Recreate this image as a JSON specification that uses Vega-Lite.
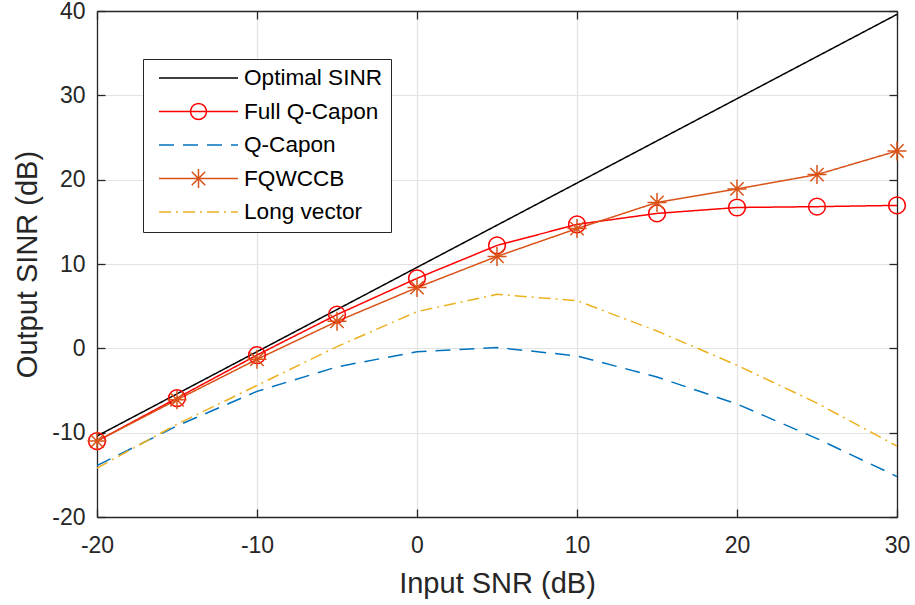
{
  "$schema": "https://vega.github.io/schema/vega-lite/v6.json",
  "width": 800,
  "height": 506,
  "autosize": {"type": "none"},
  "padding": {"left": 97, "top": 11, "right": 18, "bottom": 88},
  "background": "white",
  "config": {
    "view": {"stroke": null},
    "font": "Liberation Sans",
    "axis": {
      "labelFont": "Liberation Sans",
      "labelFontSize": 23,
      "labelColor": "#262626",
      "labelFlush": false,
      "titleFont": "Liberation Sans",
      "titleFontSize": 29,
      "titleFontWeight": "normal",
      "titleColor": "#262626",
      "domainColor": "#262626",
      "domainWidth": 1.3,
      "tickColor": "#262626",
      "tickWidth": 1.3,
      "gridColor": "#e3e3e3",
      "gridWidth": 1.2
    },
    "legend": {
      "labelFont": "Liberation Sans"
    }
  },
  "data": {
    "values": [
      {"snr": -20, "sinr": -10.4, "series": "Optimal SINR"},
      {"snr": -15, "sinr": -5.4, "series": "Optimal SINR"},
      {"snr": -10, "sinr": -0.4, "series": "Optimal SINR"},
      {"snr": -5, "sinr": 4.6, "series": "Optimal SINR"},
      {"snr": 0, "sinr": 9.6, "series": "Optimal SINR"},
      {"snr": 5, "sinr": 14.6, "series": "Optimal SINR"},
      {"snr": 10, "sinr": 19.6, "series": "Optimal SINR"},
      {"snr": 15, "sinr": 24.6, "series": "Optimal SINR"},
      {"snr": 20, "sinr": 29.6, "series": "Optimal SINR"},
      {"snr": 25, "sinr": 34.6, "series": "Optimal SINR"},
      {"snr": 30, "sinr": 39.6, "series": "Optimal SINR"},
      {"snr": -20, "sinr": -11.0, "series": "Full Q-Capon"},
      {"snr": -15, "sinr": -5.9, "series": "Full Q-Capon"},
      {"snr": -10, "sinr": -0.8, "series": "Full Q-Capon"},
      {"snr": -5, "sinr": 4.0, "series": "Full Q-Capon"},
      {"snr": 0, "sinr": 8.3, "series": "Full Q-Capon"},
      {"snr": 5, "sinr": 12.2, "series": "Full Q-Capon"},
      {"snr": 10, "sinr": 14.7, "series": "Full Q-Capon"},
      {"snr": 15, "sinr": 16.0, "series": "Full Q-Capon"},
      {"snr": 20, "sinr": 16.7, "series": "Full Q-Capon"},
      {"snr": 25, "sinr": 16.8, "series": "Full Q-Capon"},
      {"snr": 30, "sinr": 16.95, "series": "Full Q-Capon"},
      {"snr": -20, "sinr": -13.9, "series": "Q-Capon"},
      {"snr": -15, "sinr": -9.2, "series": "Q-Capon"},
      {"snr": -10, "sinr": -5.1, "series": "Q-Capon"},
      {"snr": -5, "sinr": -2.2, "series": "Q-Capon"},
      {"snr": 0, "sinr": -0.4, "series": "Q-Capon"},
      {"snr": 5, "sinr": 0.1, "series": "Q-Capon"},
      {"snr": 10, "sinr": -0.9, "series": "Q-Capon"},
      {"snr": 15, "sinr": -3.4, "series": "Q-Capon"},
      {"snr": 20, "sinr": -6.6, "series": "Q-Capon"},
      {"snr": 25, "sinr": -10.7, "series": "Q-Capon"},
      {"snr": 30, "sinr": -15.2, "series": "Q-Capon"},
      {"snr": -20, "sinr": -11.0, "series": "FQWCCB"},
      {"snr": -15, "sinr": -6.1, "series": "FQWCCB"},
      {"snr": -10, "sinr": -1.3, "series": "FQWCCB"},
      {"snr": -5, "sinr": 3.2, "series": "FQWCCB"},
      {"snr": 0, "sinr": 7.2, "series": "FQWCCB"},
      {"snr": 5, "sinr": 10.9, "series": "FQWCCB"},
      {"snr": 10, "sinr": 14.2, "series": "FQWCCB"},
      {"snr": 15, "sinr": 17.3, "series": "FQWCCB"},
      {"snr": 20, "sinr": 18.9, "series": "FQWCCB"},
      {"snr": 25, "sinr": 20.6, "series": "FQWCCB"},
      {"snr": 30, "sinr": 23.4, "series": "FQWCCB"},
      {"snr": -20, "sinr": -14.2, "series": "Long vector"},
      {"snr": -15, "sinr": -9.0, "series": "Long vector"},
      {"snr": -10, "sinr": -4.4, "series": "Long vector"},
      {"snr": -5, "sinr": 0.2, "series": "Long vector"},
      {"snr": 0, "sinr": 4.35, "series": "Long vector"},
      {"snr": 5, "sinr": 6.4, "series": "Long vector"},
      {"snr": 10, "sinr": 5.65, "series": "Long vector"},
      {"snr": 15, "sinr": 2.05, "series": "Long vector"},
      {"snr": 20, "sinr": -2.0, "series": "Long vector"},
      {"snr": 25, "sinr": -6.5, "series": "Long vector"},
      {"snr": 30, "sinr": -11.6, "series": "Long vector"}
    ]
  },
  "layer": [
    {
      "mark": {"type": "line", "strokeWidth": 1.5, "clip": true},
      "encoding": {
        "x": {
          "field": "snr", "type": "quantitative",
          "scale": {"domain": [-20, 30], "nice": false, "zero": false},
          "axis": {"orient": "bottom", "values": [-20, -10, 0, 10, 20, 30], "labelExpr": "'' + datum.value", "title": "Input SNR (dB)", "tickSize": -8, "labelPadding": 25, "titlePadding": 12}
        },
        "y": {
          "field": "sinr", "type": "quantitative",
          "scale": {"domain": [-20, 40], "nice": false, "zero": false},
          "axis": {"orient": "left", "values": [-20, -10, 0, 10, 20, 30, 40], "labelExpr": "'' + datum.value", "title": "Output SINR (dB)", "tickSize": -8, "labelPadding": 20, "titlePadding": 9}
        },
        "color": {
          "field": "series", "type": "nominal",
          "scale": {
            "domain": ["Optimal SINR", "Full Q-Capon", "Q-Capon", "FQWCCB", "Long vector"],
            "range": ["#000000", "#ff0000", "#0072bd", "#d95319", "#edb120"]
          },
          "legend": {
            "title": null,
            "orient": "none",
            "legendX": 46,
            "legendY": 48,
            "symbolType": "stroke",
            "symbolSize": 6241,
            "symbolStrokeWidth": 1.5,
            "symbolOffset": 7,
            "clipHeight": 22,
            "labelFontSize": 22.6,
            "labelColor": "#000000",
            "labelOffset": 5,
            "strokeColor": "#262626",
            "fillColor": "#ffffff",
            "padding": 8,
            "rowPadding": 10.5,
            "encode": {
              "symbols": {
                "update": {
                  "shape": {"signal": "datum.value === 'Full Q-Capon' ? 'M-1,0L1,0M0.2,0A0.2,0.2 0 1 1 -0.2,0A0.2,0.2 0 1 1 0.2,0' : datum.value === 'FQWCCB' ? 'M-1,0L1,0M0,-0.24L0,0.24M-0.17,-0.17L0.17,0.17M-0.17,0.17L0.17,-0.17' : 'M-1,0L1,0'"}
                }
              }
            }
          }
        },
        "strokeDash": {
          "field": "series", "type": "nominal",
          "scale": {
            "domain": ["Optimal SINR", "Full Q-Capon", "Q-Capon", "FQWCCB", "Long vector"],
            "range": [[1, 0], [1, 0], [15, 9], [1, 0], [12, 5, 2, 5]]
          },
          "legend": null
        }
      }
    },
    {
      "transform": [{"filter": "datum.series === 'Full Q-Capon' || datum.series === 'FQWCCB'"}],
      "mark": {"type": "point", "filled": false, "strokeWidth": 1.5, "opacity": 1},
      "encoding": {
        "x": {
          "field": "snr", "type": "quantitative",
          "axis": {"orient": "top", "values": [-20, -10, 0, 10, 20, 30], "labels": false, "grid": false, "title": null, "tickSize": -8}
        },
        "y": {
          "field": "sinr", "type": "quantitative",
          "axis": {"orient": "right", "values": [-20, -10, 0, 10, 20, 30, 40], "labels": false, "grid": false, "title": null, "tickSize": -8}
        },
        "color": {"field": "series", "type": "nominal", "legend": null},
        "shape": {
          "condition": {"test": "datum.series === 'Full Q-Capon'", "value": "circle"},
          "value": "M-1,0L1,0M0,-1L0,1M-0.7,-0.7L0.7,0.7M-0.7,0.7L0.7,-0.7"
        },
        "size": {
          "condition": {"test": "datum.series === 'Full Q-Capon'", "value": 280},
          "value": 361
        }
      }
    }
  ],
  "resolve": {"axis": {"x": "independent", "y": "independent"}}
}
